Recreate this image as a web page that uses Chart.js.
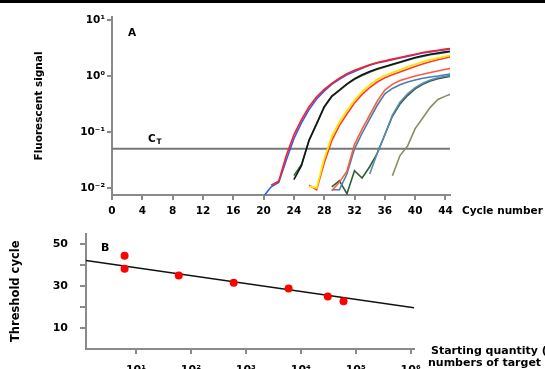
<!DOCTYPE html>
<html>
<head>
<meta charset="utf-8">
<script src="https://cdn.jsdelivr.net/npm/chart.js@4.4.1/dist/chart.umd.min.js"></script>
<style>
html, body { margin: 0; padding: 0; width: 545px; height: 369px; overflow: hidden; background: #fff; }
#topRule { position: absolute; left: 0; top: 0; width: 545px; height: 3px; background: #000; }
#wrapA { position: absolute; left: 0; top: 0; width: 545px; height: 222px; }
#wrapB { position: absolute; left: 0; top: 215px; width: 545px; height: 170px; }
</style>
</head>
<body>
<div id="wrapA"><canvas id="chartA" width="545" height="222"></canvas></div>
<div id="wrapB"><canvas id="chartB" width="545" height="170"></canvas></div>
<div id="topRule"></div>
<script>
// panel A: amplification curves (fluorescence per cycle)
const cycleNumbers = [20, 21, 22, 23, 24, 25, 26, 27, 28, 29, 30, 31, 32, 33, 34, 35, 36, 37, 38, 39, 40, 41, 42, 43, 44, 45];
const redA    = [null, 0.0112, 0.0132, 0.038, 0.0891, 0.166, 0.282, 0.427, 0.575, 0.741, 0.912, 1.1, 1.26, 1.41, 1.58, 1.74, 1.86, 2.0, 2.14, 2.29, 2.45, 2.63, 2.75, 2.88, 3.02, 3.16];
const blueA   = [0.0071, 0.0105, 0.0126, 0.0316, 0.0759, 0.145, 0.251, 0.389, 0.537, 0.708, 0.871, 1.05, 1.2, 1.38, 1.55, 1.7, 1.82, 1.95, 2.09, 2.24, 2.4, 2.57, 2.69, 2.82, 2.95, 3.09];
const blackA  = [null, null, null, null, 0.0141, 0.0251, 0.0708, 0.141, 0.282, 0.437, 0.562, 0.724, 0.891, 1.05, 1.2, 1.35, 1.48, 1.62, 1.78, 1.95, 2.14, 2.29, 2.45, 2.57, 2.69, 2.82];
const greenA  = [null, null, null, null, 0.0166, 0.0263, 0.0708, 0.138, 0.275, 0.427, 0.55, 0.71, 0.87, 1.02, 1.17, 1.32, 1.45, 1.58, 1.74, 1.91, 2.09, 2.24, 2.4, 2.51, 2.63, 2.75];
const yellowA = [null, null, null, null, null, null, 0.0107, 0.01, 0.0331, 0.0832, 0.151, 0.24, 0.372, 0.525, 0.692, 0.871, 1.02, 1.15, 1.29, 1.45, 1.62, 1.78, 1.95, 2.09, 2.24, 2.4];
const red2A   = [null, null, null, null, null, null, 0.0112, 0.0093, 0.028, 0.07, 0.13, 0.21, 0.33, 0.47, 0.62, 0.78, 0.93, 1.05, 1.18, 1.32, 1.48, 1.64, 1.8, 1.95, 2.1, 2.26];
const orangeA = [null, null, null, null, null, null, null, null, null, 0.0089, 0.0126, 0.02, 0.0603, 0.112, 0.2, 0.355, 0.562, 0.708, 0.832, 0.912, 1.0, 1.07, 1.15, 1.23, 1.32, 1.38];
const steelA  = [null, null, null, null, null, null, null, null, null, 0.0093, 0.0093, 0.0178, 0.05, 0.095, 0.17, 0.3, 0.48, 0.6, 0.7, 0.78, 0.85, 0.91, 0.96, 1.0, 1.05, 1.1];
const steelB  = [null, null, null, null, null, null, null, null, null, null, null, null, null, null, 0.0178, 0.0417, 0.0891, 0.2, 0.34, 0.48, 0.62, 0.74, 0.85, 0.93, 0.99, 1.03];
const greenB  = [null, null, null, null, null, null, null, null, null, 0.0105, 0.0135, 0.0079, 0.0204, 0.0151, 0.024, 0.0417, 0.0891, 0.191, 0.316, 0.447, 0.589, 0.708, 0.813, 0.891, 0.955, 1.0];
const oliveA  = [null, null, null, null, null, null, null, null, null, null, null, null, null, null, null, null, null, 0.0166, 0.038, 0.0562, 0.115, 0.178, 0.275, 0.38, 0.437, 0.49];
const threshold = 0.05;
const cycleTicks = [0, 4, 8, 12, 16, 20, 24, 28, 32, 36, 40, 44];
const signalTicks = [0.01, 0.1, 1, 10];
const signalLabels = ['10\u207B\u00B2', '10\u207B\u00B9', '10\u2070', '10\u00B9'];

// panel B: threshold cycle vs starting quantity
const startCopies = [6.2, 6.2, 60, 600, 6000, 31000, 60000];
const thresholdCycles = [44.4, 38.3, 35.0, 31.6, 28.8, 25.0, 22.8];
const fitCopies = [1.23, 1.15e6];
const fitCycles = [42.2, 19.7];
const copyTicks = [10, 100, 1000, 10000, 100000, 1000000];
const copyLabels = ['10\u00B9', '10\u00B2', '10\u00B3', '10\u2074', '10\u2075', '10\u2076'];
const cycleAxisTicks = [10, 20, 30, 40, 50];

Chart.defaults.font.family = 'DejaVu Sans';
Chart.defaults.font.weight = 'bold';
Chart.defaults.color = '#000';

const axisGray = '#8a8a8a';
const pts = (vals) => cycleNumbers.map((c, i) => ({ x: c, y: vals[i] }));
const curve = (vals, color, w) => ({
  data: pts(vals), borderColor: color, borderWidth: w || 1.6,
  pointRadius: 0, tension: 0, fill: false
});

const textA = {
  id: 'textA',
  afterDraw(chart) {
    const ctx = chart.ctx, a = chart.chartArea, ys = chart.scales.y;
    ctx.save();
    ctx.fillStyle = '#000';
    ctx.textBaseline = 'middle';
    ctx.font = 'bold 10.5px "DejaVu Sans"';
    ctx.fillText('A', a.left + 16, a.top + 16);
    const ty = ys.getPixelForValue(threshold);
    ctx.fillText('C', a.left + 36, ty - 10);
    ctx.font = 'bold 7.5px "DejaVu Sans"';
    ctx.fillText('T', a.left + 44.5, ty - 7);
    ctx.font = 'bold 10.5px "DejaVu Sans"';
    ctx.fillText('Cycle number', a.right + 12, a.bottom + 16);
    ctx.restore();
  }
};

new Chart(document.getElementById('chartA'), {
  type: 'line',
  data: {
    datasets: [
      curve(redA, '#ff1f1f'),
      curve(blueA, '#2f5bff'),
      curve(blackA, '#161616'),
      curve(greenA, '#2a6a3a'),
      curve(yellowA, '#ffe400', 1.8),
      curve(red2A, '#ff3a2a'),
      curve(orangeA, '#ff5a3c'),
      curve(steelA, '#4a7eb0'),
      curve(steelB, '#5a88b8'),
      curve(greenB, '#2e5e36'),
      curve(oliveA, '#8c8c64'),
      { data: [{ x: 0, y: threshold }, { x: 44.6, y: threshold }], borderColor: '#777',
        borderWidth: 2, pointRadius: 0, fill: false }
    ]
  },
  options: {
    responsive: false,
    animation: false,
    layout: { padding: { left: 0, right: 95, top: 17, bottom: 0 } },
    plugins: { legend: { display: false }, tooltip: { enabled: false } },
    scales: {
      x: {
        type: 'linear', min: 0, max: 44.6,
        afterBuildTicks: s => { s.ticks = cycleTicks.map(v => ({ value: v })); },
        afterFit: s => { s.height = 27; },
        grid: { drawOnChartArea: false, tickLength: 5, color: axisGray, lineWidth: 2 },
        border: { color: axisGray, width: 2 },
        ticks: { font: { size: 10.5, weight: 'bold' }, padding: 5, maxRotation: 0, autoSkip: false }
      },
      y: {
        type: 'logarithmic', min: 0.0075, max: 11.3,
        afterBuildTicks: s => { s.ticks = signalTicks.map(v => ({ value: v })); },
        afterFit: s => { s.width = 112; },
        grid: { drawOnChartArea: false, tickLength: 5, color: axisGray, lineWidth: 2 },
        border: { color: axisGray, width: 2 },
        ticks: {
          font: { size: 10.5, weight: 'bold' }, padding: 2, autoSkip: false,
          callback: v => { const i = signalTicks.indexOf(v); return i >= 0 ? signalLabels[i] : ''; }
        },
        title: { display: true, text: 'Fluorescent signal', font: { size: 10.5, weight: 'bold' }, padding: { top: 33, bottom: 0 } }
      }
    }
  },
  plugins: [textA]
});

const textB = {
  id: 'textB',
  afterDraw(chart) {
    const ctx = chart.ctx, a = chart.chartArea;
    ctx.save();
    ctx.fillStyle = '#000';
    ctx.textBaseline = 'middle';
    ctx.font = 'bold 11px "DejaVu Sans"';
    ctx.fillText('B', a.left + 15, a.top + 15);
    ctx.fillText('Starting quantity (copy', a.right + 17, a.bottom + 2);
    ctx.fillText('numbers of target DNA)', a.right + 14, a.bottom + 14);
    ctx.restore();
  }
};

new Chart(document.getElementById('chartB'), {
  type: 'scatter',
  data: {
    datasets: [
      { data: startCopies.map((c, i) => ({ x: c, y: thresholdCycles[i] })),
        backgroundColor: '#ff0000', borderColor: '#ff0000', pointRadius: 4, pointBorderWidth: 0 },
      { type: 'line', data: fitCopies.map((c, i) => ({ x: c, y: fitCycles[i] })),
        borderColor: '#111', borderWidth: 1.5, pointRadius: 0, fill: false }
    ]
  },
  options: {
    responsive: false,
    animation: false,
    layout: { padding: { left: 0, right: 131, top: 9, bottom: 6 } },
    plugins: { legend: { display: false }, tooltip: { enabled: false } },
    scales: {
      x: {
        type: 'logarithmic', min: 1.23, max: 1.15e6,
        afterBuildTicks: s => { s.ticks = copyTicks.map(v => ({ value: v })); },
        afterFit: s => { s.height = 30; },
        grid: { drawOnChartArea: false, tickLength: 5, color: axisGray, lineWidth: 2 },
        border: { color: axisGray, width: 2 },
        ticks: {
          font: { size: 11, weight: 'bold' }, padding: 10, maxRotation: 0, autoSkip: false,
          callback: v => { const i = copyTicks.indexOf(v); return i >= 0 ? copyLabels[i] : ''; }
        }
      },
      y: {
        type: 'linear', min: 0, max: 55,
        afterBuildTicks: s => { s.ticks = cycleAxisTicks.map(v => ({ value: v })); },
        afterFit: s => { s.width = 86; },
        grid: { drawOnChartArea: false, tickLength: 6, color: axisGray, lineWidth: 2 },
        border: { color: axisGray, width: 2 },
        ticks: {
          font: { size: 11, weight: 'bold' }, padding: 12, autoSkip: false,
          callback: v => (v % 20 === 10 ? String(v) : '')
        },
        title: { display: true, text: 'Threshold cycle', font: { size: 11.5, weight: 'bold' }, padding: { top: 9, bottom: 0 } }
      }
    }
  },
  plugins: [textB]
});
</script>
</body>
</html>
